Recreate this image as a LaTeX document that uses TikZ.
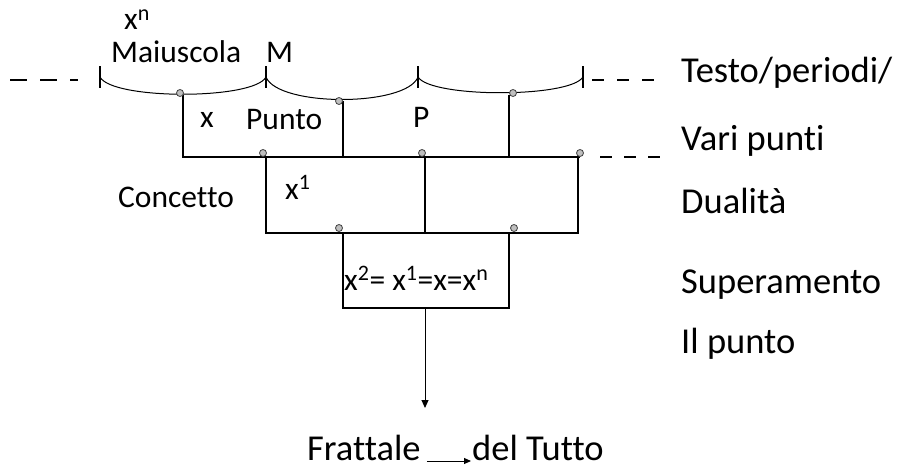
\documentclass[tikz,border=0pt]{standalone}
\usepackage{fontspec}
\setmainfont{Carlito}[Ligatures=NoCommon]
\usetikzlibrary{arrows.meta}
\begin{document}
\begin{tikzpicture}[x=1pt,y=-1pt,
  box/.style={line width=1.8pt},
  arcline/.style={line width=1pt},
  dot/.style={circle,draw=black!75,fill=black!25,line width=0.8pt,minimum size=7pt,inner sep=0pt},
  big/.style={font=\fontsize{36.5}{40}\selectfont,inner sep=0pt},
  small/.style={font=\fontsize{31.5}{35}\selectfont,inner sep=0pt},
  dsh/.style={line width=1.5pt,dash pattern=on 14pt off 11pt}]
\useasboundingbox (0,0) rectangle (899,468);
% tick marks
\coordinate (t1) at (100,77); \coordinate (t2) at (266,77);
\coordinate (t3) at (418,77); \coordinate (t4) at (583,77);
\foreach \t in {t1,t2,t3,t4} \draw[line width=1.8pt] ([yshift=-11pt]\t) -- ([yshift=11pt]\t);
% arcs
\draw[arcline] (t1) .. controls (112,100) and (254,100) .. (t2);
\draw[arcline] (t2) .. controls (278,107) and (406,107) .. (t3);
\draw[arcline] (t3) .. controls (431,98) and (570,98) .. (t4);
% dashed lines
\coordinate (dl1) at (10,80); \coordinate (dl2) at (78,80);
\draw[dsh,dash pattern=on 17pt off 13pt] (dl1) -- (dl2);
\coordinate (dr1) at (592,80); \coordinate (dr2) at (667,80);
\draw[dsh,dash pattern=on 12pt off 13pt] (dr1) -- (dr2);
\coordinate (dm1) at (600,157); \coordinate (dm2) at (660,157);
\draw[dsh,dash pattern=on 12pt off 12pt] (dm1) -- (dm2);
% level 1 box
\coordinate (a1) at (183,95); \coordinate (a2) at (343,101); \coordinate (a3) at (509,95);
\coordinate (b1) at (183,157); \coordinate (b2) at (343,157); \coordinate (b3) at (509,157);
\coordinate (b4) at (580,157);
\draw[box] (a1) -- (b1) -- (b4);
\draw[box] (a2) -- (b2);
\draw[box] (a3) -- (b3);
% level 2 box
\coordinate (c1) at (266,157); \coordinate (c2) at (425,157); \coordinate (c3) at (578,157);
\coordinate (d1) at (266,233); \coordinate (d2) at (425,233); \coordinate (d3) at (578,233);
\draw[box] (c1) -- (d1) -- (d3) -- (c3);
\draw[box] (c2) -- (d2);
% level 3 box
\coordinate (e1) at (343,233); \coordinate (e2) at (509,233);
\coordinate (f1) at (343,308); \coordinate (f2) at (509,308); \coordinate (f3) at (425,308);
\draw[box] (e1) -- (f1) -- (f2) -- (e2);
% arrow down
\coordinate (g) at (425,408);
\draw[line width=1pt,-{Triangle[length=8pt,width=7pt]}] (f3) -- (g);
% dots
\node[dot] (p1) at (180,93) {};
\node[dot] (p2) at (339,101) {};
\node[dot] (p3) at (513,93) {};
\node[dot] (p4) at (263,153) {};
\node[dot] (p5) at (422,153) {};
\node[dot] (p6) at (580,153) {};
\node[dot] (p7) at (339,228) {};
\node[dot] (p8) at (514,228) {};
% left texts
\node[small,anchor=base west] (xn) at (124,30) {x\textsuperscript{n}};
\node[small,anchor=base west] (mai) at (111,63) {Maiuscola};
\node[small,anchor=base west] (M) at (266,63) {M};
\node[small,anchor=base west] (x0) at (200,128) {x};
\node[small,anchor=base west] (pu) at (246,130) {Punto};
\node[small,anchor=base west] (P) at (413,128) {P};
\node[small,anchor=base west] (con) at (118,207) {Concetto};
\node[small,anchor=base west] (x1) at (285,199) {x\textsuperscript{1}};
\node[small,anchor=base west] (eq) at (344,290) {x\textsuperscript{2}= x\textsuperscript{1}=x=x\textsuperscript{n}};
% right texts
\node[big,anchor=base west] (r1) at (681,83) {Testo/periodi/};
\node[big,anchor=base west] (r2) at (681,150) {Vari punti};
\node[big,anchor=base west] (r3) at (681,213) {Dualità};
\node[big,anchor=base west] (r4) at (681,293) {Superamento};
\node[big,anchor=base west] (r5) at (681,353) {Il punto};
% bottom
\node[big,anchor=base west] (fr) at (307,460) {Frattale};
\node[big,anchor=base west] (dt) at (472,460) {del Tutto};
\draw[line width=1pt,-{Triangle[length=7pt,width=6pt]}] ([xshift=6pt,yshift=-1pt]fr.base east) -- ([xshift=-1pt,yshift=-1pt]dt.base west);
\end{tikzpicture}
\end{document}
